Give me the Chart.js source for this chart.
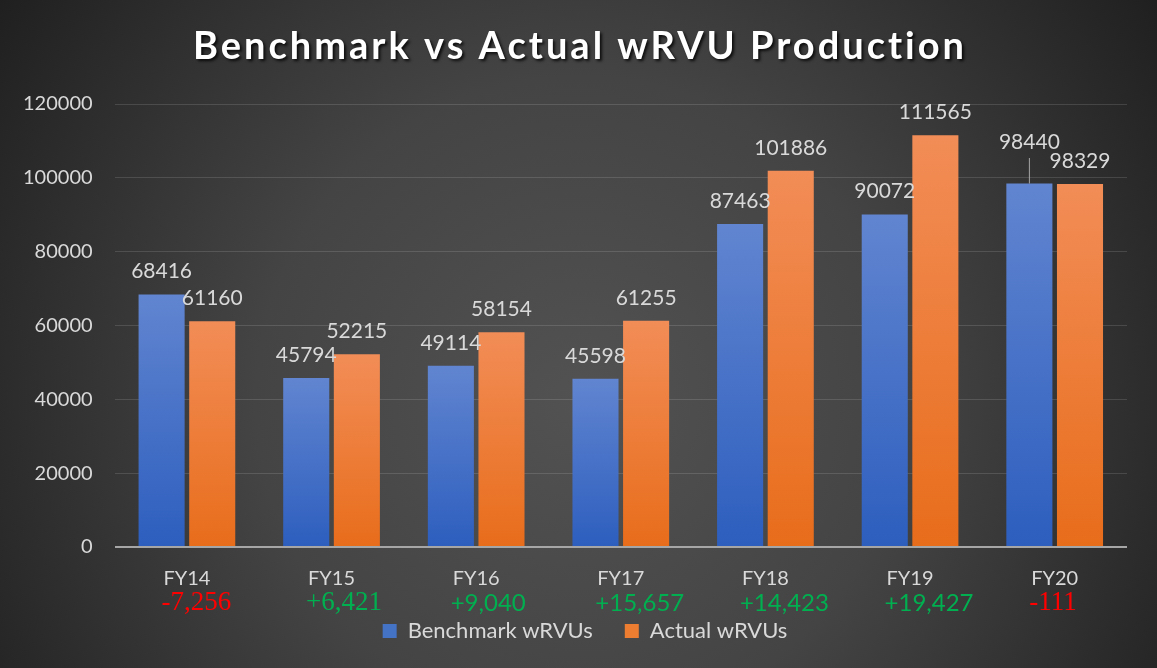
<!DOCTYPE html>
<html>
<head>
<meta charset="utf-8">
<script src="https://cdn.jsdelivr.net/npm/chart.js@4.4.1/dist/chart.umd.min.js"></script>
<style>
  html, body { margin: 0; padding: 0; background: #333; }
  #wrap { width: 1157px; height: 668px; }
</style>
</head>
<body>
<div id="wrap"><canvas id="chart" width="1157" height="668"></canvas></div>
<script>
// data
const categories = ['FY14', 'FY15', 'FY16', 'FY17', 'FY18', 'FY19', 'FY20'];
const benchmark = [68416, 45794, 49114, 45598, 87463, 90072, 98440];
const actual = [61160, 52215, 58154, 61255, 101886, 111565, 98329];
// difference labels as printed under each year (FY19 is printed as +19,427)
const diffLabels = ['-7,256', '+6,421', '+9,040', '+15,657', '+14,423', '+19,427', '-111'];
const diffSerif = [true, true, false, false, false, false, true];
const yTicks = [0, 20000, 40000, 60000, 80000, 100000, 120000];

const titleText = 'Benchmark vs Actual wRVU Production';
const textColor = '#d9d9d9';
const tickFont = { family: 'Lato', size: 20 };

// per-bar vertical gradient
function barGradient(top, bottom) {
    return function (context) {
        const chart = context.chart;
        const area = chart.chartArea;
        if (!area || context.type !== 'data') return bottom;
        const y = chart.scales.y;
        const yTop = y.getPixelForValue(context.raw);
        const yBot = y.getPixelForValue(0);
        const g = chart.ctx.createLinearGradient(0, yTop, 0, yBot);
        g.addColorStop(0, top);
        g.addColorStop(1, bottom);
        return g;
    };
}

const backgroundPlugin = {
    id: 'bg',
    beforeDraw(chart) {
        const ctx = chart.ctx;
        const w = chart.width, h = chart.height;
        const g = ctx.createRadialGradient(580, 400, 0, 580, 400, 720);
        g.addColorStop(0, '#525252');
        g.addColorStop(0.45, '#444444');
        g.addColorStop(1, '#1e1e1e');
        ctx.save();
        ctx.fillStyle = g;
        ctx.fillRect(0, 0, w, h);
        ctx.restore();
    }
};

// the legend sits a little right of the canvas centre in the original
const legendShift = {
    id: 'legendShift',
    afterLayout(chart) {
        if (chart.legend) {
            chart.legend.left += 21;
            chart.legend.right += 21;
        }
    }
};

const titlePlugin = {
    id: 'bigTitle',
    afterDraw(chart) {
        const ctx = chart.ctx;
        ctx.save();
        ctx.font = 'bold 38px Lato';
        ctx.letterSpacing = '3px';
        ctx.textAlign = 'center';
        ctx.textBaseline = 'middle';
        ctx.shadowColor = 'rgba(0,0,0,0.8)';
        ctx.shadowOffsetX = 2;
        ctx.shadowOffsetY = 2;
        ctx.shadowBlur = 3;
        ctx.fillStyle = '#ffffff';
        ctx.fillText(titleText, 580, 47);
        ctx.restore();
    }
};

// value labels above bars, lifting the benchmark label with a leader line when it collides
const valueLabelPlugin = {
    id: 'valueLabels',
    afterDatasetsDraw(chart) {
        const ctx = chart.ctx;
        const m0 = chart.getDatasetMeta(0);
        const m1 = chart.getDatasetMeta(1);
        ctx.save();
        ctx.font = '21px Lato';
        ctx.fillStyle = textColor;
        ctx.textAlign = 'center';
        ctx.textBaseline = 'alphabetic';
        for (let i = 0; i < categories.length; i++) {
            const b = m0.data[i], a = m1.data[i];
            const bText = String(benchmark[i]), aText = String(actual[i]);
            let bBase = b.y - 16;
            const aBase = a.y - 16;
            const bw = ctx.measureText(bText).width, aw = ctx.measureText(aText).width;
            const hOverlap = (b.x + bw / 2) > (a.x - aw / 2);
            if (hOverlap && Math.abs(bBase - aBase) < 18) {
                bBase = aBase - 19;
                ctx.strokeStyle = '#a6a6a6';
                ctx.lineWidth = 1;
                ctx.beginPath();
                ctx.moveTo(b.x, bBase + 9);
                ctx.lineTo(b.x, b.y);
                ctx.stroke();
            }
            ctx.fillText(bText, b.x, bBase);
            ctx.fillText(aText, a.x, aBase);
        }
        ctx.restore();
    }
};

// difference numbers under the year labels, lined up with the left edge of each year
const diffPlugin = {
    id: 'diffs',
    afterDraw(chart) {
        const ctx = chart.ctx;
        const x = chart.scales.x;
        ctx.save();
        ctx.textBaseline = 'middle';
        for (let i = 0; i < diffLabels.length; i++) {
            ctx.font = tickFont.size + 'px ' + tickFont.family;
            const left = x.getPixelForValue(i) - ctx.measureText(categories[i]).width / 2;
            const neg = diffLabels[i].charAt(0) === '-';
            ctx.fillStyle = neg ? '#ff0000' : '#00b050';
            ctx.font = diffSerif[i] ? '27px "Liberation Serif"' : '24px Lato';
            ctx.textAlign = 'left';
            ctx.fillText(diffLabels[i], left - 2, 603);
        }
        ctx.restore();
    }
};

const ctx = document.getElementById('chart').getContext('2d');
const chart = new Chart(ctx, {
    type: 'bar',
    data: {
        labels: categories,
        datasets: [{
            label: 'Benchmark wRVUs',
            data: benchmark,
            backgroundColor: barGradient('#6185d0', '#2d5ebe'),
            borderWidth: 0,
            categoryPercentage: 0.7,
            barPercentage: 0.91
        }, {
            label: 'Actual wRVUs',
            data: actual,
            backgroundColor: barGradient('#f28d57', '#e86d1b'),
            borderWidth: 0,
            categoryPercentage: 0.7,
            barPercentage: 0.91
        }]
    },
    options: {
        responsive: false,
        animation: false,
        layout: { padding: { top: 104, left: 1, right: 30, bottom: 16 } },
        plugins: {
            title: { display: false },
            tooltip: { enabled: false },
            legend: {
                position: 'bottom',
                labels: {
                    color: textColor,
                    font: { family: 'Lato', size: 22 },
                    boxWidth: 14,
                    boxHeight: 14,
                    padding: 32,
                    generateLabels(chart) {
                        return chart.data.datasets.map((ds, i) => ({
                            text: ds.label,
                            fillStyle: i === 0 ? '#4472c4' : '#ed7d31',
                            strokeStyle: 'transparent',
                            lineWidth: 0,
                            fontColor: textColor,
                            datasetIndex: i
                        }));
                    }
                }
            }
        },
        scales: {
            x: {
                grid: { display: false },
                border: { display: false },
                ticks: {
                    color: textColor,
                    font: tickFont,
                    padding: 12
                },
                afterFit(scale) { scale.height = 41; }
            },
            y: {
                min: 0,
                max: 120000,
                afterBuildTicks(scale) { scale.ticks = yTicks.map(v => ({ value: v })); },
                border: { display: false },
                grid: {
                    color: (c) => c.tick && c.tick.value === 0 ? '#a6a6a6' : 'rgba(255,255,255,0.13)',
                    lineWidth: (c) => c.tick && c.tick.value === 0 ? 2 : 1,
                    drawTicks: false
                },
                ticks: {
                    color: textColor,
                    font: tickFont,
                    padding: 22,
                    callback: (v) => String(v)
                }
            }
        }
    },
    plugins: [backgroundPlugin, legendShift, valueLabelPlugin, diffPlugin, titlePlugin]
});
</script>
</body>
</html>
